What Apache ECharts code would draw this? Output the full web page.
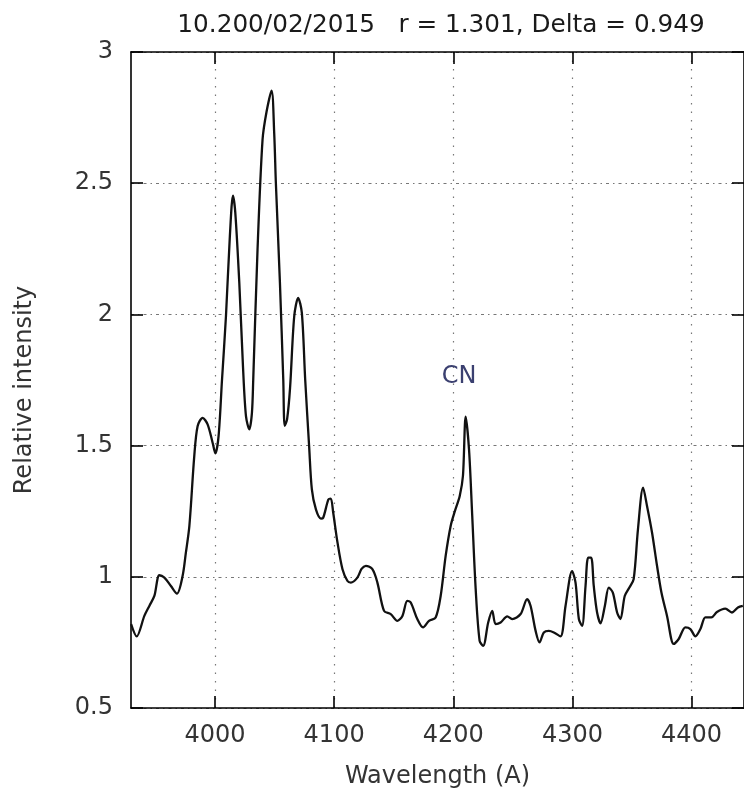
<!DOCTYPE html>
<html>
<head>
<meta charset="utf-8">
<script src="https://cdn.jsdelivr.net/npm/echarts@6/dist/echarts.min.js"></script>
<style>
html,body{margin:0;padding:0;background:#fff;}
#chart{width:744px;height:794px;}
</style>
</head>
<body>
<div id="chart"></div>
<script>
const titleText = '10.200/02/2015   r = 1.301, Delta = 0.949';
const xName = 'Wavelength (A)';
const yName = 'Relative intensity';
const xTicks = [4000, 4100, 4200, 4300, 4400];
const yTicks = [0.5, 1, 1.5, 2, 2.5, 3];
const annotation = { text: 'CN', x: 4204.8, y: 1.764 };

const wavelength = [
3929.6,3934.3,3940.7,3945,3949.1,3953.3,3957.5,3963,3968.1,3972.8,3975.5,3978.5,3982.6,3985.4,3989.6,3993.8,3998,4000.3,4003,
4005.9,4009.2,4012.5,4015.1,4017,4020.4,4023.5,4026,4028.8,4031,4032.1,4035.7,4039.9,4043.3,4047.5,4049.7,4051.1,4054.5,4057.3,
4058.5,4060.5,4063,4066.5,4069.8,4072.9,4075.7,4079,4081.3,4084.7,4088.9,4090.7,4095.2,4097.2,4099.2,4102.8,4107,4111.2,4114,
4119.5,4123,4126.6,4132.1,4136.3,4141.9,4147.5,4153.1,4157.3,4161.4,4164.3,4169.8,4174.6,4179.6,4185.2,4189.4,4193.6,4197.8,
4201.4,4205.4,4208.1,4210.4,4213.2,4215.9,4218.8,4222.1,4225.1,4229.3,4232.7,4235.5,4239.7,4245.3,4249.4,4256.5,4262,4264.9,
4269.1,4272.4,4276,4280.2,4284.4,4290,4294.2,4299.7,4302.6,4305.4,4308.1,4311,4313.2,4315.7,4317.9,4320.7,4323.6,4327.2,4330.5,
4333.9,4337.5,4340.3,4343.9,4347.8,4351.4,4355,4359.3,4362.6,4366.8,4371,4374.7,4379.4,4385,4389.2,4394.8,4399,4403.2,4407.4,
4411.6,4416.6,4421.3,4428.3,4433.9,4438.9,4443
];
const intensity = [
0.82,0.773,0.851,0.89,0.927,1.006,0.997,0.965,0.936,1.003,1.09,1.194,1.46,1.574,1.606,1.581,1.511,1.47,1.536,
1.752,1.993,2.3,2.453,2.39,2.12,1.8,1.612,1.562,1.625,1.752,2.247,2.665,2.773,2.853,2.69,2.5,2.12,1.752,
1.575,1.6,1.72,1.993,2.063,2.006,1.752,1.498,1.333,1.257,1.222,1.224,1.295,1.298,1.245,1.131,1.029,0.984,0.978,
0.997,1.03,1.042,1.029,0.978,0.87,0.858,0.832,0.851,0.908,0.902,0.839,0.807,0.832,0.845,0.927,1.08,1.194,
1.251,1.308,1.384,1.61,1.486,1.232,0.953,0.756,0.737,0.826,0.87,0.82,0.826,0.849,0.839,0.858,0.915,0.889,
0.794,0.75,0.788,0.794,0.788,0.773,0.889,1.022,0.978,0.839,0.813,0.965,1.073,1.073,0.965,0.864,0.823,0.889,0.959,
0.94,0.864,0.839,0.927,0.959,0.991,1.181,1.34,1.27,1.169,1.042,0.94,0.851,0.744,0.763,0.807,0.801,0.773,0.801,
0.845,0.845,0.866,0.879,0.864,0.883,0.889
];

const X_MIN = 3929.5, X_MAX = 4444;
const FONT = 'DejaVu Sans';
const FS = 24;
const seriesData = wavelength.map((w, i) => [w, intensity[i]]);

const chart = echarts.init(document.getElementById('chart'), null, { renderer: 'canvas' });
const frame = { color: '#000', width: 1.6 };
chart.setOption({
  animation: false,
  backgroundColor: '#fff',
  grid: { left: 131, right: -1, top: 52, bottom: 85, containLabel: false },
  graphic: [
    { type: 'text', x: 441, y: 26, scaleX: 1.03, style: { text: titleText, fontFamily: FONT, fontSize: FS, fill: '#1a1a1a', align: 'center', verticalAlign: 'middle' } },
    { type: 'text', x: 25, y: 390, rotation: Math.PI / 2, style: { text: yName, fontFamily: FONT, fontSize: FS, fill: '#333', align: 'center', verticalAlign: 'middle' } }
  ],
  xAxis: [
    {
      type: 'value', min: X_MIN, max: X_MAX, position: 'bottom',
      name: xName, nameLocation: 'middle', nameGap: 57,
      nameTextStyle: { fontFamily: FONT, fontSize: FS, color: '#333' },
      axisLine: { show: true, onZero: false, lineStyle: frame },
      axisTick: { show: true, inside: true, length: 12, customValues: xTicks, lineStyle: frame },
      axisLabel: { show: true, customValues: xTicks, margin: 16, fontFamily: FONT, fontSize: FS, color: '#333', formatter: v => String(v) },
      splitLine: { show: true, lineStyle: { color: '#777', width: 1.2, type: [1.5, 7] } }
    },
    {
      type: 'value', min: X_MIN, max: X_MAX, position: 'top',
      axisLine: { show: true, onZero: false, lineStyle: frame },
      axisTick: { show: true, inside: true, length: 12, customValues: xTicks, lineStyle: frame },
      axisLabel: { show: false },
      splitLine: { show: false }
    }
  ],
  yAxis: [
    {
      type: 'value', min: 0.5, max: 3, interval: 0.5, position: 'left',
      axisLine: { show: true, onZero: false, lineStyle: frame },
      axisTick: { show: true, inside: true, length: 12, customValues: yTicks, lineStyle: frame },
      axisLabel: { show: true, customValues: yTicks, margin: 18, fontFamily: FONT, fontSize: FS, color: '#333', formatter: v => String(v) },
      splitLine: { show: true, lineStyle: { color: '#777', width: 1.2, type: [3, 4, 1.5, 4] } }
    },
    {
      type: 'value', min: 0.5, max: 3, interval: 0.5, position: 'right',
      axisLine: { show: true, onZero: false, lineStyle: frame },
      axisTick: { show: true, inside: true, length: 12, customValues: yTicks, lineStyle: frame },
      axisLabel: { show: false },
      splitLine: { show: false }
    }
  ],
  series: [
    {
      type: 'line', xAxisIndex: 0, yAxisIndex: 0,
      data: seriesData, showSymbol: false, smooth: 0.3,
      lineStyle: { color: '#111', width: 2.3 },
      markPoint: {
        symbol: 'circle', symbolSize: 0, silent: true,
        label: { show: true, position: 'inside', formatter: annotation.text, fontFamily: FONT, fontSize: FS, color: '#3b4070' },
        data: [{ coord: [annotation.x, annotation.y] }]
      }
    }
  ]
});
</script>
</body>
</html>
